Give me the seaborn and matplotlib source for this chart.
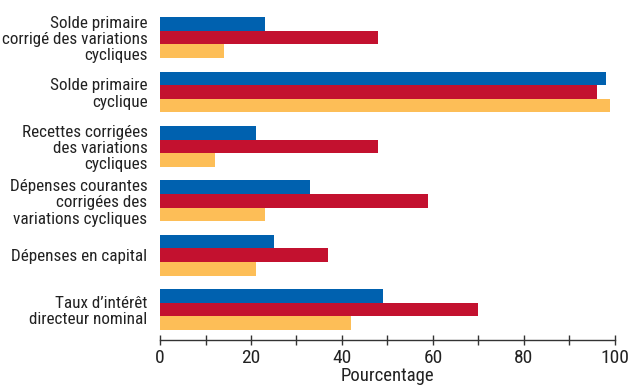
import matplotlib
matplotlib.use("Agg")
import matplotlib.pyplot as plt
from matplotlib.ticker import MultipleLocator
import pandas as pd
import seaborn as sns

categories = [
    "Solde primaire\ncorrigé des variations\ncycliques",
    "Solde primaire\ncyclique",
    "Recettes corrigées\ndes variations\ncycliques",
    "Dépenses courantes\ncorrigées des\nvariations cycliques",
    "Dépenses en capital",
    "Taux d’intérêt\ndirecteur nominal",
]
series_names = ["Série 1", "Série 2", "Série 3"]
blue_vals = [23, 98, 21, 33, 25, 49]
red_vals = [48, 96, 48, 59, 37, 70]
orange_vals = [14, 99, 12, 23, 21, 42]
colors = ["#0061AF", "#C3112F", "#FDBE57"]

rows = []
for name, vals in zip(series_names, [blue_vals, red_vals, orange_vals]):
    for cat, v in zip(categories, vals):
        rows.append({"cat": cat, "serie": name, "val": v})
df = pd.DataFrame(rows)

sns.set_theme(style="white")
plt.rcParams["font.family"] = ["Roboto Condensed", "DejaVu Sans"]

fig = plt.figure(figsize=(6.3, 3.86), dpi=100)
ax = fig.add_axes([0.254, 0.119, 0.722, 0.881])

sns.barplot(data=df, y="cat", x="val", hue="serie", orient="h",
            palette=colors, width=0.75, gap=0, saturation=1,
            legend=False, ax=ax, linewidth=0)

ax.set_xlim(0, 100)
ax.set_ylim(5.56, -0.69)
ax.xaxis.set_major_locator(MultipleLocator(20))
ax.xaxis.set_minor_locator(MultipleLocator(10))
ax.tick_params(axis="x", which="both", direction="inout", length=7, width=1,
               color="#333333", labelsize=14, labelcolor="#222222", pad=3,
               bottom=True)
ax.tick_params(axis="y", length=0, labelsize=12.3, labelcolor="#222222", pad=9)
for lab in ax.get_yticklabels():
    lab.set_multialignment("right")
    lab.set_linespacing(1.1)
for s in ["top", "right", "left"]:
    ax.spines[s].set_visible(False)
ax.spines["bottom"].set_color("#333333")
ax.spines["bottom"].set_linewidth(1)
ax.set_ylabel("")
ax.set_xlabel("Pourcentage", fontsize=13.5, color="#222222", labelpad=0)

fig.savefig("out.png", dpi=100)
